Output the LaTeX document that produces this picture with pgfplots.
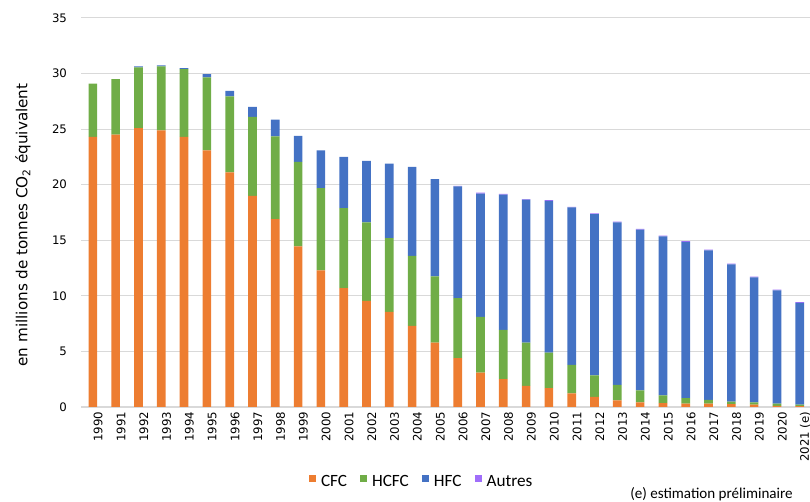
\documentclass[border=0pt]{standalone}
\usepackage{pgfplots}
\pgfplotsset{compat=1.18}
\usepackage{pgfplotstable}
\usepackage{fontspec}
\setmainfont{DejaVu Sans}
\newfontfamily\legendfont{Carlito}

\definecolor{cfc}{RGB}{237,125,49}
\definecolor{hcfc}{RGB}{112,173,71}
\definecolor{hfc}{RGB}{68,114,196}
\definecolor{autres}{RGB}{160,110,250}
\definecolor{gridgray}{RGB}{217,217,217}

% emissions par gaz, Mt CO2 eq
\pgfplotstableread{
idx cfc hcfc hfc autres
0 24.3 4.8 0 0
1 24.5 5.0 0 0
2 25.1 5.45 0.1 0
3 24.9 5.75 0.08 0
4 24.3 6.1 0.1 0
5 23.1 6.55 0.3 0
6 21.1 6.85 0.5 0
7 19.0 7.1 0.9 0
8 16.9 7.45 1.5 0
9 14.45 7.6 2.35 0
10 12.3 7.4 3.4 0
11 10.7 7.2 4.6 0
12 9.55 7.05 5.55 0
13 8.55 6.65 6.7 0
14 7.3 6.3 8.0 0
15 5.8 5.95 8.75 0
16 4.4 5.4 10.05 0.05
17 3.1 5.0 11.1 0.08
18 2.5 4.45 12.15 0.08
19 1.9 3.9 12.85 0.06
20 1.7 3.2 13.65 0.06
21 1.23 2.57 14.15 0.06
22 0.9 1.95 14.5 0.06
23 0.6 1.4 14.6 0.07
24 0.42 1.08 14.45 0.07
25 0.35 0.7 14.3 0.07
26 0.3 0.5 14.05 0.07
27 0.3 0.35 13.45 0.07
28 0.25 0.23 12.35 0.07
29 0.22 0.2 11.25 0.07
30 0.1 0.2 10.2 0.07
31 0.08 0.14 9.15 0.07
}\gases

\begin{document}
\begin{tikzpicture}[x=1pt,y=1pt]
\useasboundingbox (0,0) rectangle (607.5,376.5);
\begin{axis}[
  at={(60.75pt,71.25pt)}, anchor=south west,
  scale only axis,
  width=546.75pt, height=291.75pt,
  ybar stacked,
  bar width=0.38,
  xmin=-0.52, xmax=31.45,
  ymin=0, ymax=35,
  ytick={0,5,...,35},
  xtick={0,...,31},
  xticklabels={1990,1991,1992,1993,1994,1995,1996,1997,1998,1999,2000,2001,2002,2003,2004,2005,2006,2007,2008,2009,2010,2011,2012,2013,2014,2015,2016,2017,2018,2019,2020,2021~(e)},
  axis x line*=bottom,
  axis y line*=left,
  x axis line style={gridgray, line width=1.3pt, -},
  y axis line style={draw=none},
  major tick length=0pt,
  ymajorgrids,
  grid style={gridgray, line width=0.75pt},
  tick label style={font=\fontsize{8.8}{10}\selectfont},
  /pgf/number format/assume math mode=true,
  xticklabel style={rotate=90, anchor=east, yshift=-4pt},
  yticklabel style={anchor=east, xshift=-7pt},
  ylabel={en millions de tonnes CO\textsubscript{2} équivalent},
  ylabel style={font=\fontsize{11.4}{13}\selectfont, at={(axis description cs:-0.0796,0.468)}, anchor=center},
  legend columns=4,
  legend style={draw=none, fill=none, font=\legendfont\fontsize{12.9}{15}\selectfont,
    at={(axis description cs:0.468,-0.192)}, anchor=center,
    /tikz/every even column/.append style={column sep=8pt}},
  legend image code/.code={\fill[#1] (0pt,-0.1pt) rectangle (5.25pt,5.15pt); \path (6.75pt,0pt);},
]
\addplot[fill=cfc, draw=none] table[x=idx, y=cfc] {\gases};
\addplot[fill=hcfc, draw=none] table[x=idx, y=hcfc] {\gases};
\addplot[fill=hfc, draw=none] table[x=idx, y=hfc] {\gases};
\addplot[fill=autres, draw=none] table[x=idx, y=autres] {\gases};
\legend{CFC,HCFC,HFC,Autres}
\end{axis}
\node[anchor=east, font=\legendfont\fontsize{11.3}{13}\selectfont, inner sep=0pt] at (594.75,5.5) {(e) estimation préliminaire};
\end{tikzpicture}
\end{document}
